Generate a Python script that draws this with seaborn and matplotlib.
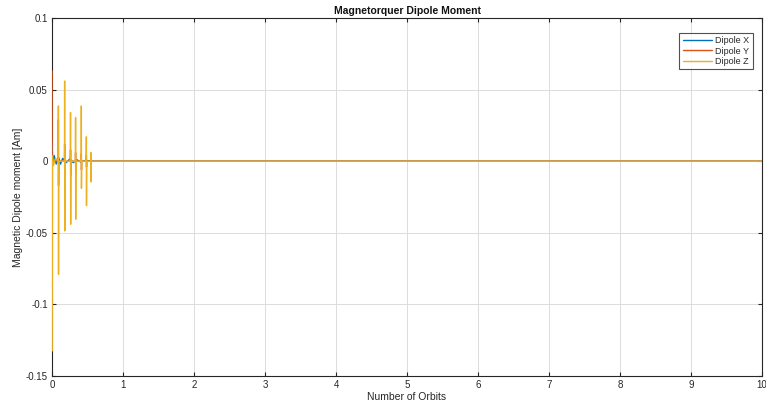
import numpy as np
import pandas as pd
import matplotlib
matplotlib.use("Agg")
import matplotlib.pyplot as plt
import seaborn as sns

# Dipole commands [Am] versus orbit count: detumbling pulses, then zero
orbits_x = [0.0, 0.004, 0.010, 0.03, 0.06, 0.09, 0.12, 0.15, 0.20, 0.25, 0.30, 0.35, 0.40, 0.47, 0.60, 10.0]
dipole_x = [0.015, 0.008, -0.003, 0.004, -0.002, 0.003, -0.002, 0.002, -0.001, 0.0015, -0.001, 0.001, -0.0005, 0.0005, 0.0, 0.0]

orbits_y = [0.0, 0.003, 0.006, 0.05,
            0.088, 0.090, 0.092, 0.095,
            0.176, 0.178, 0.180, 0.183,
            0.259, 0.261, 0.263, 0.266,
            0.330, 0.332, 0.334, 0.337,
            0.411, 0.413, 0.415, 0.418,
            0.482, 0.484, 0.486, 0.489,
            0.545, 0.547, 0.549, 0.552,
            0.60, 10.0]
dipole_y = [0.063, -0.009, 0.001, 0.0,
            0.0, 0.029, -0.017, 0.0,
            0.0, 0.012, -0.012, 0.0,
            0.0, 0.008, -0.010, 0.0,
            0.0, 0.006, -0.008, 0.0,
            0.0, 0.005, -0.006, 0.0,
            0.0, 0.004, -0.004, 0.0,
            0.0, 0.002, -0.002, 0.0,
            0.0, 0.0]

orbits_z = [0.003, 0.006, 0.02, 0.05,
            0.088, 0.090, 0.092, 0.095,
            0.176, 0.178, 0.180, 0.183,
            0.259, 0.261, 0.263, 0.266,
            0.330, 0.332, 0.334, 0.337,
            0.411, 0.413, 0.415, 0.418,
            0.482, 0.484, 0.486, 0.489,
            0.545, 0.547, 0.549, 0.552,
            0.60, 10.0]
dipole_z = [-0.1325, 0.004, -0.003, 0.002,
            0.0, 0.0386, -0.079, 0.0,
            0.0, 0.056, -0.0487, 0.0,
            0.0, 0.034, -0.044, 0.0,
            0.0, 0.0305, -0.0405, 0.0,
            0.0, 0.0386, -0.019, 0.0,
            0.0, 0.017, -0.031, 0.0,
            0.0, 0.006, -0.0145, 0.0,
            0.0, 0.0]

series_names = ["Dipole X", "Dipole Y", "Dipole Z"]
colors = ["#0072BD", "#D95319", "#EDB120"]

frames = []
for name, t, v in zip(series_names, [orbits_x, orbits_y, orbits_z], [dipole_x, dipole_y, dipole_z]):
    frames.append(pd.DataFrame({"orbits": t, "dipole": v, "series": name}))
df = pd.concat(frames, ignore_index=True)

sns.set_style("ticks")
plt.rcParams["font.family"] = ["Liberation Sans", "DejaVu Sans"]

fig = plt.figure(figsize=(7.66, 4.11), dpi=100)
ax = fig.add_axes([52 / 766, 1 - 376 / 411, 710 / 766, 358 / 411])

sns.lineplot(data=df, x="orbits", y="dipole", hue="series", palette=colors,
             hue_order=series_names, sort=False, estimator=None, linewidth=1.0,
             zorder=3, ax=ax)

ax.set_xlim(0, 10)
ax.set_ylim(-0.15, 0.1)
ax.set_xticks(np.arange(0, 11, 1))
ax.set_xticklabels([str(i) for i in range(11)])
ax.set_yticks([-0.15, -0.1, -0.05, 0, 0.05, 0.1])
ax.set_yticklabels(["-0.15", "-0.1", "-0.05", "0", "0.05", "0.1"])
ax.grid(True, color="#dcdcdc", linewidth=0.7)
ax.set_axisbelow(True)
ax.tick_params(direction="in", length=3, width=0.8, colors="#262626", labelsize=7,
               top=True, right=True, pad=3)
for s in ax.spines.values():
    s.set_visible(True)
    s.set_color("#262626")
    s.set_linewidth(0.8)

ax.set_title("Magnetorquer Dipole Moment", fontsize=7.5, color="#111111", pad=3,
             fontweight="bold")
ax.set_xlabel("Number of Orbits", fontsize=7.5, color="#262626", labelpad=1)
ax.set_ylabel("Magnetic Dipole moment [Am]", fontsize=7.5, color="#262626", labelpad=2)

leg = ax.legend(loc="upper right", fontsize=6.5, frameon=True, fancybox=False,
                edgecolor="#262626", handlelength=3.2, borderpad=0.4, labelspacing=0.15,
                handletextpad=0.4, bbox_to_anchor=(0.994, 0.972))
leg.get_frame().set_linewidth(0.8)
leg.set_title(None)

fig.savefig("out.png", dpi=100, facecolor="white")
